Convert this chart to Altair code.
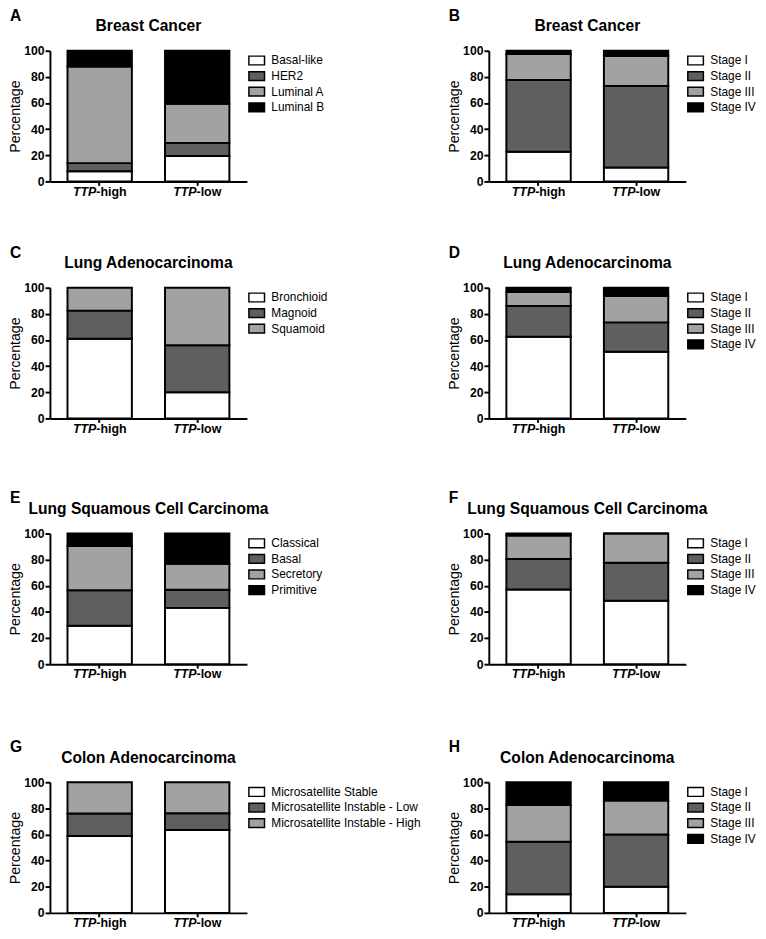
import altair as alt
import pandas as pd

# ---------------- data ----------------
label_prefix = "TTP"
label_suffix = ["-high", "-low"]
groups = [label_prefix + s for s in label_suffix]

panel_letters = ["A", "B", "C", "D", "E", "F", "G", "H"]
panel_titles = ["Breast Cancer", "Breast Cancer",
                "Lung Adenocarcinoma", "Lung Adenocarcinoma",
                "Lung Squamous Cell Carcinoma", "Lung Squamous Cell Carcinoma",
                "Colon Adenocarcinoma", "Colon Adenocarcinoma"]

stages = ["Stage I", "Stage II", "Stage III", "Stage IV"]

breast_subtypes = ["Basal-like", "HER2", "Luminal A", "Luminal B"]
breast_sub_high = [7.8, 6.2, 74.0, 12.0]
breast_sub_low = [19.4, 10.1, 29.9, 40.6]
breast_stage_high = [22.7, 54.9, 19.9, 2.5]
breast_stage_low = [10.7, 62.4, 22.9, 4.0]

luad_subtypes = ["Bronchioid", "Magnoid", "Squamoid"]
luad_sub_high = [61.0, 21.5, 17.5]
luad_sub_low = [20.0, 36.0, 44.0]
luad_stage_high = [62.5, 23.5, 10.75, 3.25]
luad_stage_low = [51.0, 22.5, 20.25, 6.25]

lusc_subtypes = ["Classical", "Basal", "Secretory", "Primitive"]
lusc_sub_high = [29.4, 27.2, 33.9, 9.5]
lusc_sub_low = [43.1, 13.8, 19.9, 23.2]
lusc_stage_high = [57.1, 23.4, 18.0, 1.5]
lusc_stage_low = [48.6, 29.0, 22.4, 0.0]

coad_msi = ["Microsatellite Stable", "Microsatellite Instable - Low",
            "Microsatellite Instable - High"]
coad_msi_high = [58.9, 17.1, 24.0]
coad_msi_low = [63.5, 12.8, 23.7]
coad_stage_high = [14.25, 40.25, 28.0, 17.5]
coad_stage_low = [20.0, 40.0, 26.0, 14.0]

# ---------------- style ----------------
FONT = "Liberation Sans"
W, H = 202, 134
FILLS = ["#ffffff", "#5f5f5f", "#a2a2a2", "#000000"]
RECT_PATH = "M-1.143,-0.643H1.143V0.643H-1.143Z"   # 16 x 9 swatch at size 196
SPLIT_DX = [-3.5, -0.7]      # where "TTP" meets the suffix, relative to the tick
LETTER_X, LETTER_Y = -41, -31
NAME_Y = -20
XLAB_Y = H + 14.6

xscale = alt.Scale(domain=groups, paddingInner=0.34, paddingOuter=0.18)
xaxis = alt.Axis(labels=False, title=None, ticks=True)


def panel(k, cats, high, low):
    field = "cat" + panel_letters[k]
    rows = []
    for g, vals in zip(groups, [high, low]):
        for i, (c, v) in enumerate(zip(cats, vals)):
            rows.append({"grp": g, field: c, "value": v, "idx": i})
    df = pd.DataFrame(rows)

    bars = alt.Chart(df).mark_bar(stroke="black", strokeWidth=2).encode(
        x=alt.X("grp:N", scale=xscale, axis=xaxis),
        y=alt.Y("value:Q", stack="zero",
                scale=alt.Scale(domain=[0, 100], nice=False),
                axis=alt.Axis(values=[0, 20, 40, 60, 80, 100], title="Percentage")),
        color=alt.Color(f"{field}:N",
                        scale=alt.Scale(domain=cats, range=FILLS[:len(cats)]),
                        legend=alt.Legend(title=None, orient="right", offset=0,
                                          padding=2, labelFont=FONT, labelFontSize=12.2,
                                          labelColor="black", labelOffset=7,
                                          labelLimit=400, symbolType=RECT_PATH,
                                          symbolSize=196, symbolStrokeColor="black",
                                          symbolStrokeWidth=1.5, symbolOpacity=1,
                                          rowPadding=0)),
        order=alt.Order("idx:Q", sort="ascending"),
    )

    lab_df = pd.DataFrame({"grp": groups, "pre": [label_prefix] * 2, "suf": label_suffix})
    layers = [bars]
    for g, dx in zip(groups, SPLIT_DX):
        base = alt.Chart(lab_df).transform_filter(alt.datum.grp == g)
        layers.append(base.mark_text(align="right", baseline="alphabetic", dx=dx,
                                     font=FONT, fontSize=12.7, fontWeight="bold",
                                     fontStyle="italic", color="black").encode(
            x=alt.X("grp:N", scale=xscale, axis=xaxis),
            y=alt.value(XLAB_Y), text="pre:N"))
        layers.append(base.mark_text(align="left", baseline="alphabetic", dx=dx,
                                     font=FONT, fontSize=12.7, fontWeight="bold",
                                     color="black").encode(
            x=alt.X("grp:N", scale=xscale, axis=xaxis),
            y=alt.value(XLAB_Y), text="suf:N"))

    head = pd.DataFrame({"letter": [panel_letters[k]], "name": [panel_titles[k]]})
    layers.append(alt.Chart(head).mark_text(align="left", baseline="alphabetic",
                                            font=FONT, fontSize=16, fontWeight="bold",
                                            color="black").encode(
        x=alt.value(LETTER_X), y=alt.value(LETTER_Y), text="letter:N"))
    layers.append(alt.Chart(head).mark_text(align="center", baseline="alphabetic",
                                            font=FONT, fontSize=16, fontWeight="bold",
                                            color="black").encode(
        x=alt.value(W / 2), y=alt.value(NAME_Y), text="name:N"))

    return alt.layer(*layers).properties(width=W, height=H)


def ind(c):
    return c.resolve_scale(color="independent").resolve_legend(color="independent")


pA = panel(0, breast_subtypes, breast_sub_high, breast_sub_low)
pB = panel(1, stages, breast_stage_high, breast_stage_low)
pC = panel(2, luad_subtypes, luad_sub_high, luad_sub_low)
pD = panel(3, stages, luad_stage_high, luad_stage_low)
pE = panel(4, lusc_subtypes, lusc_sub_high, lusc_sub_low)
pF = panel(5, stages, lusc_stage_high, lusc_stage_low)
pG = panel(6, coad_msi, coad_msi_high, coad_msi_low)
pH = panel(7, stages, coad_stage_high, coad_stage_low)

S1, S2, S3 = 47, 56, 59


def column(a, b, c, d):
    inner3 = ind(alt.vconcat(c, d, spacing=S3))
    inner2 = ind(alt.vconcat(b, inner3, spacing=S2))
    return ind(alt.vconcat(a, inner2, spacing=S1))


left = column(pA, pC, pE, pG)
right = column(pB, pD, pF, pH)

chart = ind(alt.hconcat(left, right, spacing=24)).properties(
    padding={"left": 0, "top": -12, "right": 0, "bottom": 0}
).configure_view(
    strokeWidth=0
).configure_axis(
    grid=False, domainColor="black", domainWidth=2, tickColor="black", tickWidth=2,
    labelFont=FONT, labelFontWeight="bold", labelFontSize=12.5, labelColor="black",
    labelPadding=1, titleFont=FONT, titleFontSize=14.5, titleFontWeight="normal",
    titleColor="black", titlePadding=1
).configure_axisY(tickSize=5).configure_axisX(tickSize=4)

chart.save("out.html", embed_options={"renderer": "svg", "actions": False})
